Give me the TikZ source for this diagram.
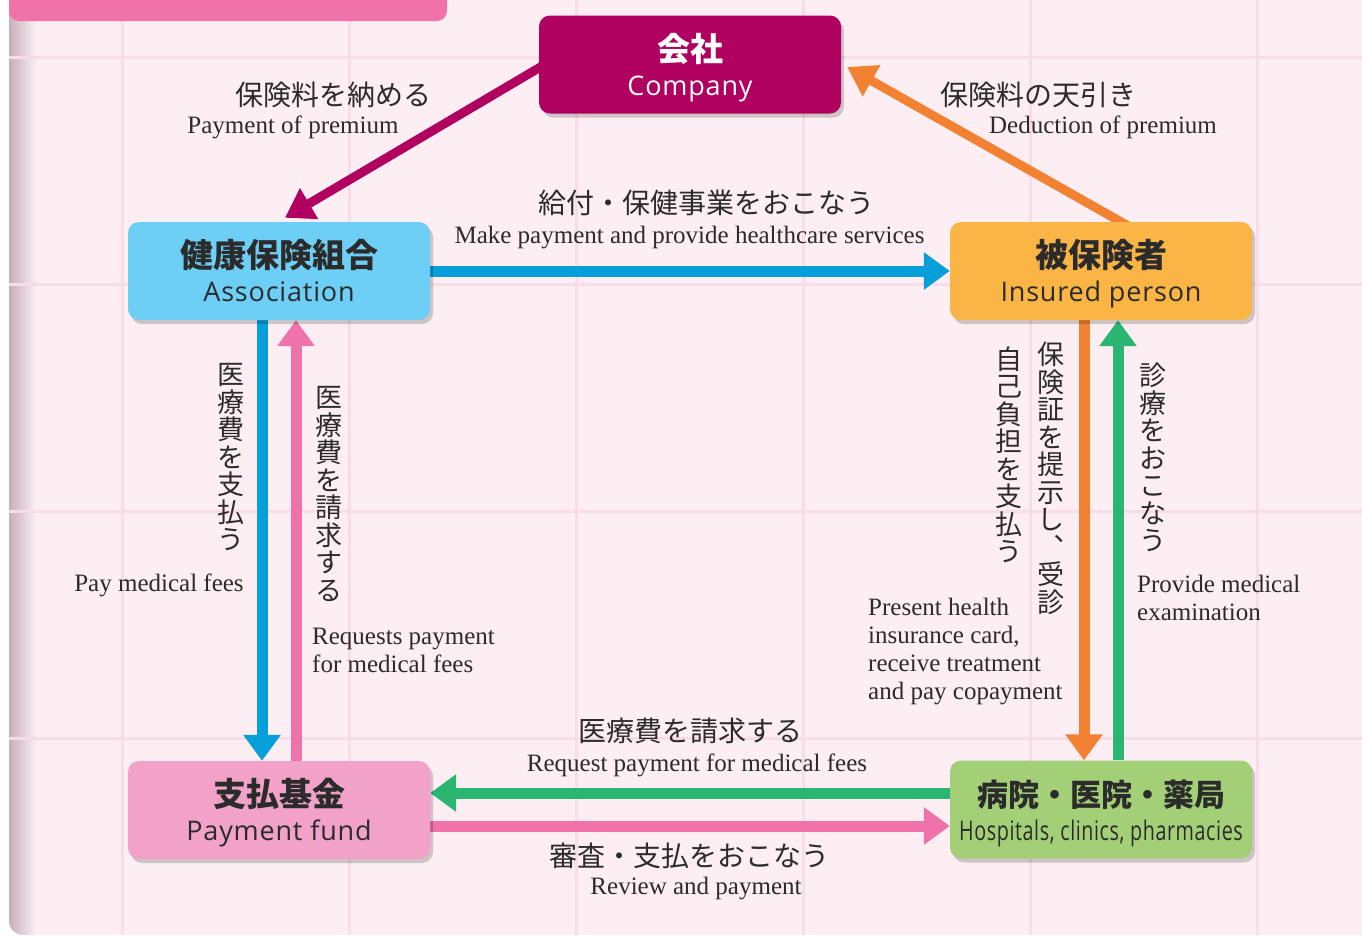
\documentclass[tikz,border=0pt]{standalone}
\usepackage{fontspec}
\setmainfont{Liberation Serif}
\newfontfamily\jp{Noto Sans CJK JP}
\newfontfamily\ensans[LetterSpace=3]{Open Sans}
\usetikzlibrary{arrows.meta,shadows}
\definecolor{panel}{HTML}{FCEEF3}
\definecolor{gridc}{HTML}{F8DCE8}
\definecolor{edgec}{HTML}{C7AFBC}
\definecolor{banner}{HTML}{F072A8}
\definecolor{txt}{HTML}{2B2B2B}
\definecolor{magc}{HTML}{B00060}
\definecolor{orgc}{HTML}{F28232}
\definecolor{bluec}{HTML}{079FDA}
\definecolor{pinkc}{HTML}{EF72AA}
\definecolor{greenc}{HTML}{2BB573}
\definecolor{assocf}{HTML}{6DCFF6}
\definecolor{insf}{HTML}{FBB545}
\definecolor{fundf}{HTML}{F2A2C8}
\definecolor{hospf}{HTML}{A3D077}
\pgfdeclarelayer{bg}
\pgfdeclarelayer{arr}
\pgfsetlayers{bg,arr,main}
\begin{document}
\begin{tikzpicture}[x=1pt,y=-1pt,
  box/.style={rounded corners=11pt, minimum width=302pt, minimum height=98pt,
    align=center, inner sep=0pt, text=txt, font=\fontsize{27}{34}\selectfont,
    drop shadow={shadow xshift=3pt, shadow yshift=-4pt, opacity=0.18, fill=black}},
  arr/.style={line width=11pt, -{Triangle[width=36pt,length=26pt]}},
  darr/.style={line width=9pt, -{Triangle[width=34pt,length=28pt]}},
  jl/.style={inner sep=0pt, text=txt, font=\jp\fontsize{28}{28}\selectfont},
  jv/.style={inner sep=0pt, text=txt, align=center, font=\jp\fontsize{27}{27.5}\selectfont},
  el/.style={inner sep=0pt, text=txt, font=\fontsize{25}{28}\selectfont},
  eml/.style={inner sep=0pt, text=txt, align=left, font=\fontsize{25}{28}\selectfont}]
\useasboundingbox (0,0) rectangle (1362,935);
\begin{pgfonlayer}{bg}
  \fill[white] (0,0) rectangle (1362,935);
  \begin{scope}
    \clip (9,-20) [rounded corners=14pt] -- (9,935) [sharp corners] -- (1380,935) -- (1380,-20) -- cycle;
    \fill[panel] (0,-20) rectangle (1380,940);
    \shade[left color=edgec, right color=panel] (9,0) rectangle (36,940);
    \foreach \gx in {122,349,576,803,1030,1257}
      \draw[gridc, line width=3pt] (\gx,0) -- (\gx,935);
    \foreach \gy in {57,284,511,738}
      \draw[gridc, line width=3pt] (9,\gy) -- (1362,\gy);
  \end{scope}
  \fill[banner, rounded corners=10pt] (9,-30) rectangle (447,21);
\end{pgfonlayer}

% boxes
\node[box, fill=magc, text=white] (company) at (690,64.5)
  {{\jp\bfseries\fontsize{33}{33}\selectfont\rule{0pt}{36pt}会社}\\{\ensans\fontsize{27}{27}\selectfont\strut Company}};
\node[box, fill=assocf] (assoc) at (279,271)
  {{\jp\bfseries\fontsize{33}{33}\selectfont\rule{0pt}{36pt}健康保険組合}\\{\ensans\fontsize{27}{27}\selectfont\strut Association}};
\node[box, fill=insf] (insured) at (1101,271)
  {{\jp\bfseries\fontsize{33}{33}\selectfont\rule{0pt}{36pt}被保険者}\\{\ensans\fontsize{27}{27}\selectfont\strut Insured person}};
\node[box, fill=fundf] (fund) at (279,810)
  {{\jp\bfseries\fontsize{33}{33}\selectfont\rule{0pt}{36pt}支払基金}\\{\ensans\fontsize{27}{27}\selectfont\strut Payment fund}};
\node[box, fill=hospf] (hosp) at (1101,809.5)
  {{\jp\bfseries\fontsize{31}{31}\selectfont\rule{0pt}{36pt}病院・医院・薬局}\\{\ensans\fontsize{27}{27}\selectfont\strut\scalebox{0.73}[1]{Hospitals, clinics, pharmacies}}};

% connectors
\begin{pgfonlayer}{arr}
  \draw[darr, magc] ([xshift=10pt,yshift=2.4pt]company.west) -- ([xshift=6pt,yshift=4pt]assoc.north);
  \draw[darr, orgc] ([xshift=34pt,yshift=-8pt]insured.north) -- ([xshift=6pt,yshift=-2.5pt]company.east);
  \draw[arr, bluec] (assoc.east) -- (insured.west);
  \draw[arr, bluec] ([xshift=-17pt]assoc.south) -- ([xshift=-17pt]fund.north);
  \draw[arr, pinkc] ([xshift=17pt]fund.north) -- ([xshift=17pt]assoc.south);
  \draw[arr, orgc] ([xshift=-17pt]insured.south) -- ([xshift=-17pt]hosp.north);
  \draw[arr, greenc] ([xshift=17pt]hosp.north) -- ([xshift=17pt]insured.south);
  \draw[arr, greenc] ([yshift=16.5pt]hosp.west) -- ([yshift=17pt]fund.east);
  \draw[arr, pinkc] ([yshift=-16pt]fund.east) -- ([yshift=-16.5pt]hosp.west);
\end{pgfonlayer}

% labels
\node[jl] (l1j) at (333.5,95) {保険料を納める};
\node[el, anchor=base] (l1e) at (293,133) {Payment of premium};
\node[jl] (l2j) at (1038.5,95) {保険料の天引き};
\node[el, anchor=base] (l2e) at (1103,133) {Deduction of premium};
\node[jl] (l3j) at (706.5,203) {給付・保健事業をおこなう};
\node[el, anchor=base] (l3e) at (689.5,243) {Make payment and provide healthcare services};
\node[jv] (l4j) at (231,457.5) {医\\療\\費\\を\\支\\払\\う};
\node[el, anchor=base] (l4e) at (159,591) {Pay medical fees};
\node[jv] (l5j) at (329,494) {医\\療\\費\\を\\請\\求\\す\\る};
\node[eml, anchor=base west] (l5e) at (312,672) {Requests payment\\for medical fees};
\node[jv] (l6j) at (1009,455) {自\\己\\負\\担\\を\\支\\払\\う};
\node[jv] (l6k) at (1051,478.5) {保\\険\\証\\を\\提\\示\\し\\︑\\受\\診};
\node[eml, anchor=base west] (l6e) at (868,699) {Present health\\insurance card,\\receive treatment\\and pay copayment};
\node[jv] (l7j) at (1153,457.5) {診\\療\\を\\お\\こ\\な\\う};
\node[eml, anchor=base west] (l7e) at (1137,620) {Provide medical\\examination};
\node[jl] (l8j) at (690,731) {医療費を請求する};
\node[el, anchor=base] (l8e) at (697,771) {Request payment for medical fees};
\node[jl] (l9j) at (689,856) {審査・支払をおこなう};
\node[el, anchor=base] (l9e) at (696,894) {Review and payment};
\end{tikzpicture}
\end{document}
